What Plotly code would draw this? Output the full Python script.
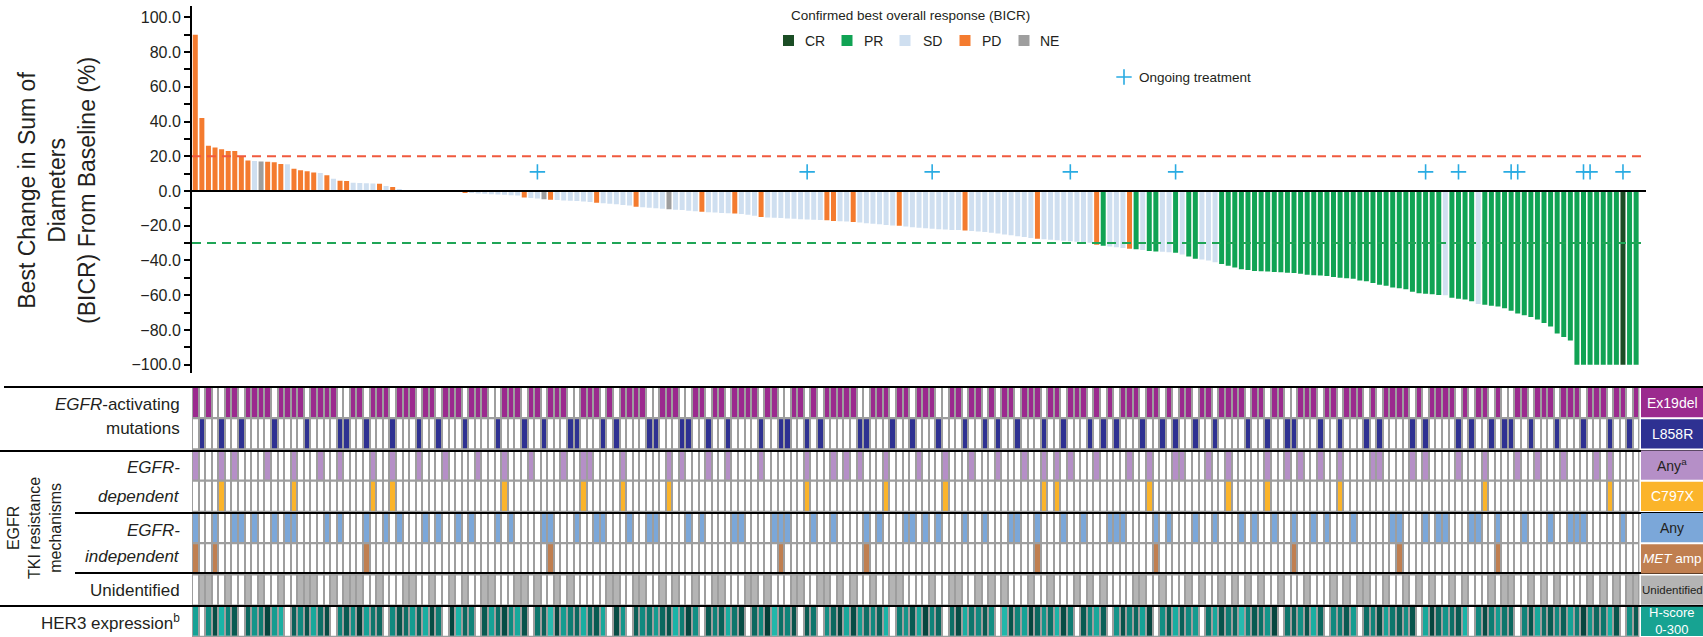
import plotly.graph_objects as go

W, H = 1703, 637


def px(x):
    return x / W


def py(y):
    return 1 - y / H


# ---------------- data ----------------
best_change = [
    90, 42, 26, 25, 24, 23, 23, 20, 17.5, 17.3,
    17.0, 16.8, 16.6, 15.6, 15.4, 12.8, 11.9, 11.3, 10.6, 10.4,
    9.0, 7.0, 5.9, 5.8, 4.7, 4.6, 4.5, 4.3, 4.2, 2.9,
    2.3, 1.0, 0.5, 0.2, 0.0, 0.0, 0.0, 0.0, 0.0, -0.2,
    -0.4, -1.0, -1.2, -1.4, -1.6, -1.8, -2.0, -2.2, -2.4, -2.6,
    -3.7, -4.0, -4.3, -4.8, -5.0, -5.2, -5.4, -5.6, -5.8, -6.0,
    -6.3, -6.7, -7.0, -7.3, -7.6, -8.0, -8.4, -9.0, -9.3, -9.6,
    -9.9, -10.2, -10.5, -10.8, -11.0, -11.3, -11.6, -12.0, -12.2, -12.4,
    -12.6, -12.8, -13.0, -13.3, -13.7, -14.2, -15.0, -15.2, -15.4, -15.6,
    -15.8, -16.0, -16.2, -16.4, -16.5, -16.7, -16.9, -17.2, -17.4, -17.6,
    -17.8, -18.1, -18.5, -18.9, -19.2, -19.5, -19.8, -20.0, -20.5, -20.9,
    -21.2, -21.5, -21.8, -22.0, -22.2, -22.4, -22.5, -22.7, -23.0, -23.3,
    -23.6, -24.0, -24.5, -25.0, -25.5, -26.0, -26.5, -27.0, -27.5, -27.8,
    -28.0, -28.3, -28.6, -28.9, -29.2, -29.5, -29.8, -31.0, -31.5, -32.0,
    -32.4, -32.8, -33.3, -33.6, -34.0, -34.5, -34.8, -35.0, -35.3, -35.6,
    -36.5, -37.7, -39.0, -39.5, -40.0, -41.0, -42.0, -43.0, -44.0, -45.0,
    -45.5, -46.0, -46.2, -46.4, -46.6, -46.8, -47.0, -47.2, -47.6, -48.2,
    -48.5, -48.7, -49.0, -49.5, -50.0, -50.2, -50.5, -51.5, -52.0, -53.0,
    -54.0, -54.5, -55.5, -56.0, -56.5, -58.0, -58.8, -59.2, -59.5, -59.8,
    -60.0, -61.5, -62.0, -62.5, -63.5, -65.0, -65.5, -66.0, -66.5, -67.5,
    -69.0, -70.5, -71.5, -72.5, -74.0, -76.0, -78.0, -82.0, -84.0, -86.0,
    -100, -100, -100, -100, -100, -100, -100, -100, -100, -100,
]

# confirmed best overall response per patient: C=CR, R=PR, S=SD, P=PD, N=NE
response_codes = (
    "PPPPPPPPPS NPPPSPPPPS PSPPSSSSPS PSSSSSSSSS SPSSSSSSSS "
    "PSSNPSSSSS SPSSSSSPSS SSNSSSSPSS SSPSSSPSSS SSSSSSPPSS "
    "PSSSSSSPSS SSSSSSSPSS SSSSSSSSPS SSSSSSSPRS SSPRSRRSSR "
    "SRRSSSRRRR RRRRRRRRRR RRRRRRRRRR RRRRRRRRRR SRRRRSRRRR "
    "RRRRRRRRRR RRRRRRRCRR"
)

ongoing_idx = [52, 93, 112, 133, 149, 187, 192, 200, 201, 211, 212, 217]
ongoing_level = 11

response_names = ["CR", "PR", "SD", "PD", "NE"]
response_colors = {"CR": "#1b4d25", "PR": "#10a354", "SD": "#cfdff0",
                   "PD": "#f47b2f", "NE": "#9e9e9e"}
code_to_name = {"C": "CR", "R": "PR", "S": "SD", "P": "PD", "N": "NE"}

ex19del = ("1010011011 1101111011 1100110111 0111011011 1011100111 0110111001 "
           "1101011110 0111001101 1011110110 0110101111 1001110110 1110011011 "
           "0101101110 1101110101 0111011010 1101101111 0110110011 1011011101 "
           "0111101011 1101011010 0110111011 1011101101")
l858r = ("0100100100 0010000100 0011001000 1000100100 0100001000 1001000110 "
         "0010100001 1000110010 0100001001 1001010000 0110001001 0001000100 "
         "1010010001 0010001010 1000100101 0010010000 1001001100 0100100010 "
         "1000010100 0010100101 1001000100 0100010010")
dep_any = ("1000101000 0100010001 0010000100 1000100010 0001000100 0100001001 "
           "1000010000 0010100010 0100001000 0001000101 0100010000 1000100010 "
           "0010001001 0101000100 0010010001 1000100100 0001001010 0100100001 "
           "1000010100 0010001000 0100100010 0001010000")
c797x = ("0000100000 0000010000 0000000100 1000000000 0000000100 0000000001 "
         "0000010000 0010000000 0000000000 0001000000 0000010000 0000100000 "
         "0000000001 0100000000 0000010000 0000000100 0001000000 0000100000 "
         "0000000000 0000001000 0000000000 0000010000")
indep_any = ("1001001101 0010110000 1010001001 0100010100 1010001010 0001100010 "
             "0110001001 1000010100 0011000011 1000100100 0010100011 0101000100 "
             "1000110010 0010010001 1100001010 0010010001 0100100100 1010001000 "
             "0011000101 1000110010 0010001001 1100000100")
met_amp = ("1001000000 0000000000 0000001000 0000000000 0000000000 0000100000 "
           "0000000000 0000000000 0000000001 0000000000 0010000000 0000000000 "
           "0000000010 0000000000 0000001000 0000000000 0000000100 0000000000 "
           "0001000000 0000000010 0000000000 0000000000")
unidentified = ("0110010010 1001001110 0101110010 0011001001 0100110001 1010010100 "
                "0001100110 0101001001 1000110100 0110011010 1001001100 0010011001 "
                "0101000100 1000101010 0001100100 0101001010 1010010001 0001010110 "
                "0100101010 0101000101 1001010100 0010101011")

her3_hscore = [
    150, None, 180, 280, 120, 200, 260, None, 240, 170,
    210, 290, 160, 130, None, 250, 190, 270, 140, 230,
    280, None, 200, 260, 180, 300, 150, 220, 240, None,
    190, 270, 230, 160, 250, 130, 280, 210, None, 290,
    120, 240, 200, None, 260, 150, 230, 280, 190, 140,
    270, None, 220, 250, 100, 290, 160, 210, 240, 130,
    230, 260, 140, None, 280, 170, None, 250, 190, 220,
    160, 240, 270, 120, 210, 290, 180, None, 260, 200,
    250, 130, 220, 280, None, 240, 190, 300, 110, 230,
    200, 270, None, 260, 220, None, 180, 240, 290, 140,
    280, 160, 230, 190, 250, 120, None, 210, 170, 260,
    140, 290, 200, 240, None, 230, 280, 130, 220, 190,
    260, 180, None, 110, 270, 200, 150, 290, 240, 170,
    230, 120, 280, 210, None, 260, 190, 140, 250, None,
    170, 270, 200, 240, 150, 290, None, 180, 260, 130,
    250, 190, 160, None, 220, 140, 270, 210, 240, 100,
    200, 260, 230, 170, 290, None, 220, 250, 180, 270,
    130, 240, None, 190, 210, 260, 160, None, 230, 200,
    280, 150, 220, 250, 180, 270, None, 140, 290, 240,
    170, 230, 260, 120, None, 190, 280, 210, 160, 220,
    240, None, 200, 270, 140, 230, 260, 190, 250, 150,
    210, 290, 170, 240, 220, 130, 270, None, 180, 260,
]

track_labels = ["Ex19del", "L858R", "Any<sup>a</sup>", "C797X", "Any",
                "<i>MET</i> amp", "Unidentified", "H-score<br>0-300"]
track_colors = ["#9b2a8e", "#2e3192", "#b58fc7", "#fbb42a", "#7ba7d9",
                "#c07f50", "#b4b4b4", "#17a392"]
track_text_colors = ["white", "white", "#231f20", "white", "#231f20",
                     "white", "#231f20", "white"]
track_text_sizes = [14, 14, 14, 14, 14, 13.5, 11.5, 13]


def bits(s):
    return [int(c) for c in s.replace(" ", "")]


binary_tracks = [bits(ex19del), bits(l858r), bits(dep_any), bits(c797x),
                 bits(indep_any), bits(met_amp), bits(unidentified)]

responses = [code_to_name[c] for c in response_codes.replace(" ", "")]
n = len(best_change)
idx = list(range(n))

# ---------------- geometry ----------------
X_LEFT, X_RIGHT = 192, 1646          # plot x extent in pixels
Y_TOP, Y_BOT = 6, 373.4              # waterfall y extent in pixels
HM_TOP = 387                         # top of the annotation tracks
ROW_H = (H - HM_TOP) / 8

FONT = "Liberation Sans, Arial, sans-serif"
TXT = "#231f20"
PLUS_BLUE = "#29abe2"

fig = go.Figure()

fig.add_trace(go.Bar(
    x=idx, y=best_change,
    marker=dict(color=[response_colors[r] for r in responses], line=dict(width=0)),
    width=0.76, xaxis="x", yaxis="y", hoverinfo="skip", showlegend=False,
))

fig.add_trace(go.Scatter(
    x=ongoing_idx, y=[ongoing_level] * len(ongoing_idx), mode="markers",
    marker=dict(symbol="cross-thin", size=11, line=dict(width=1.6, color=PLUS_BLUE)),
    xaxis="x", yaxis="y", hoverinfo="skip", showlegend=False,
))

# binary tracks: white when absent, track colour when present
for r, vals in enumerate(binary_tracks):
    fig.add_trace(go.Heatmap(
        z=[vals], x=idx, y=[r], xaxis="x2", yaxis="y2",
        colorscale=[[0, "#ffffff"], [1, track_colors[r]]], zmin=0, zmax=1,
        showscale=False, xgap=2, ygap=2, hoverinfo="skip",
    ))

# HER3 row: white base for missing cells, teal scale for H-score
fig.add_trace(go.Heatmap(
    z=[[0] * n], x=idx, y=[7], xaxis="x2", yaxis="y2",
    colorscale=[[0, "#ffffff"], [1, "#ffffff"]], showscale=False,
    xgap=2, ygap=2, hoverinfo="skip",
))
fig.add_trace(go.Heatmap(
    z=[her3_hscore], x=idx, y=[7], xaxis="x2", yaxis="y2",
    colorscale=[[0, "#6fd8ce"], [0.4, "#1ab4a7"], [0.7, "#0f7d73"], [1, "#053f38"]],
    zmin=0, zmax=300, showscale=False, xgap=2, ygap=2, hoverinfo="skip",
))

shapes = []
# gray grid behind the tracks
shapes.append(dict(type="rect", xref="x2", yref="paper", x0=-0.5, x1=n - 0.5,
                   y0=0, y1=py(HM_TOP), fillcolor="#9e9e9e", line=dict(width=0),
                   layer="below"))
# zero line and response thresholds
shapes.append(dict(type="line", xref="x", yref="y", x0=-0.5, x1=220.5, y0=0, y1=0,
                   line=dict(color="black", width=2), layer="above"))
shapes.append(dict(type="line", xref="x", yref="y", x0=-0.5, x1=220.5, y0=20, y1=20,
                   line=dict(color="#f05a3e", width=2, dash="9px,6px"), layer="above"))
shapes.append(dict(type="line", xref="x", yref="y", x0=-0.5, x1=220.5, y0=-30, y1=-30,
                   line=dict(color="#1fa556", width=2, dash="9px,6px"), layer="above"))

# group separators
for yy, x0 in [(387, 4), (451, 0), (513, 75), (573, 75), (606, 0)]:
    shapes.append(dict(type="line", xref="paper", yref="paper", x0=px(x0), x1=1,
                       y0=py(yy), y1=py(yy), line=dict(color="black", width=2),
                       layer="above"))

annotations = []


def note(x, y, text, size, color=TXT, xanchor="center", angle=0):
    annotations.append(dict(
        x=px(x), y=py(y), xref="paper", yref="paper", text=text, showarrow=False,
        xanchor=xanchor, yanchor="middle", textangle=angle,
        font=dict(family=FONT, size=size, color=color),
    ))


# right-hand track keys
for r in range(8):
    y0 = HM_TOP + ROW_H * r + 1
    y1 = HM_TOP + ROW_H * (r + 1) - 1
    shapes.append(dict(type="rect", xref="paper", yref="paper", x0=px(1641), x1=1,
                       y0=py(y1), y1=py(y0), fillcolor=track_colors[r],
                       line=dict(width=0), layer="above"))
    note(1672, (y0 + y1) / 2, track_labels[r], track_text_sizes[r],
         track_text_colors[r])

# legend for response categories
leg_sq_x = [788.5, 847, 905, 965, 1024]
leg_txt_x = [803, 862, 921, 980, 1038]
note(910, 15, "Confirmed best overall response (BICR)", 13.5)
for name, sx, tx in zip(response_names, leg_sq_x, leg_txt_x):
    shapes.append(dict(type="rect", xref="paper", yref="paper",
                       x0=px(sx - 5.5), x1=px(sx + 5.5), y0=py(46), y1=py(35),
                       fillcolor=response_colors[name], line=dict(width=0)))
    note(tx, 40.5, name, 14, xanchor="left")

fig.add_trace(go.Scatter(
    x=[px(1124)], y=[py(77)], mode="markers", xaxis="x3", yaxis="y3",
    marker=dict(symbol="cross-thin", size=11, line=dict(width=1.6, color=PLUS_BLUE)),
    hoverinfo="skip", showlegend=False,
))
note(1137, 77, "Ongoing treatment", 13.5, xanchor="left")

# y-axis title
note(57, 191, "Best Change in Sum of<br>Diameters<br>(BICR) From Baseline (%)", 23,
     angle=-90)

# left-hand track labels
left_labels = [
    ("<i>EGFR</i>-activating", 404),
    ("mutations", 428),
    ("<i>EGFR-</i>", 467),
    ("<i>dependent</i>", 496),
    ("<i>EGFR-</i>", 530),
    ("<i>independent</i>", 556),
    ("Unidentified", 590),
    ("HER3 expression<sup>b</sup>", 622),
]
for text, yy in left_labels:
    note(182, yy, text, 17, xanchor="right")
note(34, 528, "EGFR<br>TKI resistance<br>mechanisms", 16, angle=-90)

fig.update_layout(
    width=W, height=H, margin=dict(l=0, r=0, t=0, b=0),
    paper_bgcolor="white", plot_bgcolor="rgba(0,0,0,0)",
    showlegend=False,
    shapes=shapes, annotations=annotations,
    xaxis=dict(domain=[px(X_LEFT), px(X_RIGHT)], range=[-0.5, 220.5], visible=False,
               anchor="y"),
    yaxis=dict(domain=[py(Y_BOT), py(Y_TOP)], range=[-105, 106.5], anchor="x",
               tickmode="array", tickvals=[-100, -80, -60, -40, -20, 0, 20, 40, 60, 80, 100],
               tickformat=".1f", ticks="outside", ticklen=6, tickwidth=2,
               tickcolor="black", showline=True, linecolor="black", linewidth=2,
               showgrid=False, zeroline=False,
               minor=dict(tickmode="array", tickvals=[-90, -70, -50, -30, -10, 10, 30, 50, 70, 90],
                          ticks="outside", ticklen=6, tickwidth=2, tickcolor="black"),
               tickfont=dict(family=FONT, size=16, color=TXT)),
    xaxis2=dict(domain=[px(X_LEFT), px(X_RIGHT)], range=[-0.5, 220.5], visible=False,
                anchor="y2"),
    yaxis2=dict(domain=[0, py(HM_TOP)], range=[7.5, -0.5], visible=False, anchor="x2"),
    xaxis3=dict(domain=[0, 1], range=[0, 1], visible=False, anchor="y3"),
    yaxis3=dict(domain=[0, 1], range=[0, 1], visible=False, anchor="x3"),
)

fig.write_html("out.html", config={"displayModeBar": False})
